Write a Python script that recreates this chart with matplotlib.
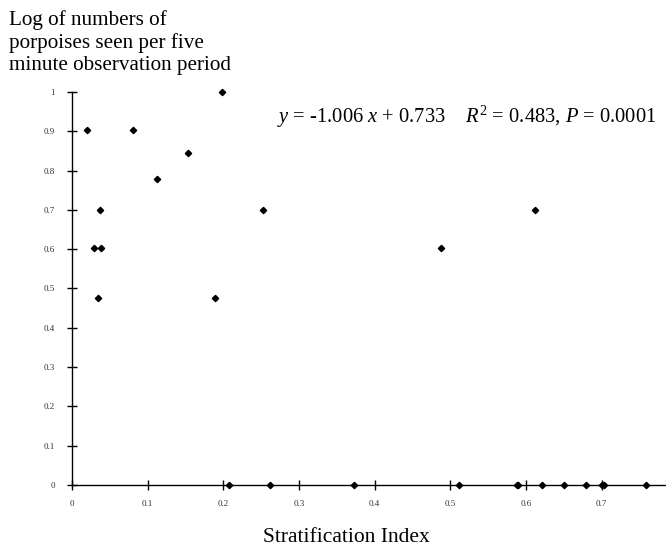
import matplotlib
matplotlib.use('Agg')
import matplotlib.pyplot as plt
from matplotlib.ticker import FormatStrFormatter, MultipleLocator

# ── font ──────────────────────────────────────────────────
plt.rcParams['font.family'] = ['Liberation Serif', 'DejaVu Serif']
plt.rcParams['mathtext.fontset'] = 'custom'
plt.rcParams['mathtext.rm'] = 'Liberation Serif'
plt.rcParams['mathtext.it'] = 'Liberation Serif:italic'

# ── data (stratification index vs log porpoise count) ──────
strat_index = [0.020, 0.080, 0.113, 0.153, 0.198, 0.0375, 0.252,
               0.0296, 0.0389, 0.034, 0.189, 0.488, 0.612,
               0.208, 0.262, 0.373, 0.511, 0.588, 0.590, 0.621,
               0.650, 0.680, 0.701, 0.703, 0.759]
log_porpoises = [0.903, 0.903, 0.778, 0.845, 1.000, 0.699, 0.699,
                 0.602, 0.602, 0.477, 0.477, 0.602, 0.699,
                 0, 0, 0, 0, 0, 0, 0,
                 0, 0, 0, 0, 0]
x_ticks = [0, 0.1, 0.2, 0.3, 0.4, 0.5, 0.6, 0.7]

W, H = 666, 548
fig = plt.figure(figsize=(W / 100, H / 100), dpi=100)
fig.patch.set_facecolor('white')

# axes box in pixels: y-axis at x=72, x-axis at y=485, y=1 at y=92
left, bottom, top = 72, 485, 92
ax = fig.add_axes([left / W, 1 - bottom / H, 1 - left / W, (bottom - top) / H])

ax.plot(strat_index, log_porpoises, linestyle='none', marker='D',
        markersize=3.2, color='black', clip_on=False, zorder=5)

ax.set_xlim(0, (W - left) / 756.5)
ax.set_ylim(0, 1)
ax.set_xticks(x_ticks)
ax.yaxis.set_major_locator(MultipleLocator(0.1))
ax.xaxis.set_major_formatter(FormatStrFormatter('%g'))
ax.yaxis.set_major_formatter(FormatStrFormatter('%g'))

for side in ['top', 'right']:
    ax.spines[side].set_visible(False)
for side in ['left', 'bottom']:
    ax.spines[side].set_linewidth(1.0)
    ax.spines[side].set_color('black')

ax.tick_params(axis='both', direction='inout', length=7, width=1.0,
               labelsize=6.5, labelcolor='#333333', color='black')
ax.tick_params(axis='x', pad=7)
ax.tick_params(axis='y', pad=9)

# ── texts ────────────────────────────────────────────────
fig.text(9 / W, 1 - 10 / H,
         'Log of numbers of\nporpoises seen per five\nminute observation period',
         ha='left', va='top', fontsize=15.2, linespacing=1.2)
fig.text(346 / W, 1 - 538 / H, 'Stratification Index',
         ha='center', va='center', fontsize=15.5)
fig.text(277 / W, 1 - 117 / H,
         r'$y$ = -1.006 $x$ + 0.733    $R^2$ = 0.483, $P$ = 0.0001',
         ha='left', va='center', fontsize=14.8)

fig.savefig('out.png', dpi=100)
